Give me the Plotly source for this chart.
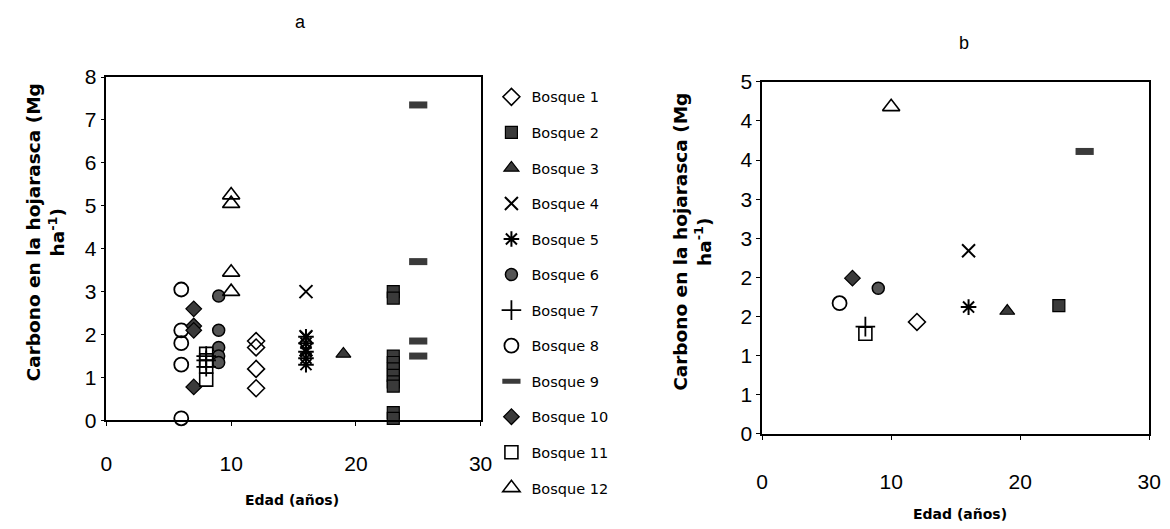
import plotly.graph_objects as go

# Age (years) of each forest stand
bosques = [f"Bosque {i}" for i in range(1, 13)]
edades = [12, 23, 19, 16, 16, 9, 8, 6, 25, 7, 8, 10]

# Panel a: individual litter carbon values per stand (Mg ha-1)
carbono_a = [
    [1.85, 1.70, 1.20, 0.75],                              # Bosque 1
    [3.00, 2.85, 1.50, 1.35, 1.20, 1.05, 0.90, 0.80, 0.18, 0.05],  # Bosque 2
    [1.55],                                                # Bosque 3
    [3.00, 1.95, 1.65],                                    # Bosque 4
    [1.95, 1.80, 1.60, 1.45, 1.30],                        # Bosque 5
    [2.90, 2.10, 1.70, 1.50, 1.35],                        # Bosque 6
    [1.50, 1.40, 1.25],                                    # Bosque 7
    [3.05, 2.10, 1.80, 1.30, 0.05],                        # Bosque 8
    [7.35, 3.70, 1.85, 1.50],                              # Bosque 9
    [2.60, 2.20, 2.10, 0.78],                              # Bosque 10
    [1.55, 1.40, 1.25, 0.95],                              # Bosque 11
    [5.25, 5.05, 3.45, 3.00],                              # Bosque 12
]

# Panel b: mean litter carbon per stand (Mg ha-1)
carbono_b = [1.43, 1.64, 1.57, 2.34, 1.62, 1.86, 1.37, 1.67, 3.61, 1.99, 1.28, 4.18]

# Axis ticks
ticks_x = [0, 10, 20, 30]
ticks_ya = [0, 1, 2, 3, 4, 5, 6, 7, 8]
ticks_yb = [0, 0.5, 1, 1.5, 2, 2.5, 3, 3.5, 4, 4.5]
ticktext_yb = ["0", "1", "1", "2", "2", "3", "3", "4", "4", "5"]

DARK = "#3a3a3a"
estilos = [
    dict(symbol="diamond-open", size=13, color="black", line=dict(width=1.6, color="black")),
    dict(symbol="square", size=12, color=DARK, line=dict(width=1.2, color="black")),
    dict(symbol="triangle-up", size=13, color=DARK, line=dict(width=1.2, color="black")),
    dict(symbol="x-thin", size=13, color="black", line=dict(width=2, color="black")),
    dict(symbol="asterisk", size=13, color="black", line=dict(width=2, color="black")),
    dict(symbol="circle", size=12, color="#555555", line=dict(width=1.5, color="black")),
    dict(symbol="cross-thin", size=14, color="black", line=dict(width=1.8, color="black")),
    dict(symbol="circle-open", size=14, color="black", line=dict(width=1.8, color="black")),
    dict(symbol="line-ew", size=13, color=DARK, line=dict(width=7, color=DARK)),
    dict(symbol="diamond", size=12, color=DARK, line=dict(width=1.2, color="black")),
    dict(symbol="square-open", size=13, color="black", line=dict(width=1.6, color="black")),
    dict(symbol="triangle-up-open", size=15, color="black", line=dict(width=1.6, color="black")),
]

fig = go.Figure()

for i, nombre in enumerate(bosques):
    vals = carbono_a[i]
    fig.add_trace(go.Scatter(
        x=[edades[i]] * len(vals), y=vals, mode="markers", name=nombre,
        legendgroup=nombre, marker=estilos[i], xaxis="x", yaxis="y",
        cliponaxis=False,
    ))
    fig.add_trace(go.Scatter(
        x=[edades[i]], y=[carbono_b[i]], mode="markers", name=nombre,
        legendgroup=nombre, showlegend=False, marker=estilos[i],
        xaxis="x2", yaxis="y2", cliponaxis=False,
    ))

W, H = 1170, 529


def px_x(a, b):
    return [a / W, b / W]


def px_y(top, bottom):
    return [(H - bottom) / H, (H - top) / H]


tick_font = dict(family="Liberation Sans, Arial, sans-serif", size=21, color="black")
axis_common = dict(
    showgrid=False, zeroline=False, showline=True, linecolor="black",
    linewidth=1.5, mirror=True, ticks="outside", ticklen=4, tickwidth=1,
    tickcolor="black", tickfont=tick_font,
)

fig.update_layout(
    width=W, height=H,
    margin=dict(l=0, r=0, t=0, b=0),
    paper_bgcolor="white", plot_bgcolor="white",
    xaxis=dict(domain=px_x(102, 482), range=[0, 30], tickvals=ticks_x,
               anchor="y", ticklabelstandoff=20, **axis_common),
    yaxis=dict(domain=px_y(68, 427), range=[0, 8], tickvals=ticks_ya,
               anchor="x", **axis_common),
    xaxis2=dict(domain=px_x(768, 1161), range=[0, 30], tickvals=ticks_x,
                anchor="y2", ticklabelstandoff=24, **axis_common),
    yaxis2=dict(domain=px_y(73, 441), range=[0, 4.5], tickvals=ticks_yb,
                ticktext=ticktext_yb, anchor="x2", **axis_common),
    legend=dict(
        x=493 / W, y=(H - 72) / H, xanchor="left", yanchor="top",
        font=dict(family="DejaVu Sans, sans-serif", size=14.5, color="black"),
        tracegroupgap=13.7, itemwidth=30, bgcolor="rgba(0,0,0,0)",
    ),
    showlegend=True,
)

ytitle = "<b>Carbono en la hojarasca (Mg<br>ha<sup>-1</sup>)</b>"
title_font = dict(family="DejaVu Sans, sans-serif", size=18.5, color="black")
xt_font = dict(family="DejaVu Sans, sans-serif", size=14, color="black")
panel_font = dict(family="Liberation Sans, Arial, sans-serif", size=18, color="black")

annotations = [
    dict(text="a", x=299 / W, y=(H - 10) / H, font=panel_font),
    dict(text="b", x=973 / W, y=(H - 32) / H, font=panel_font),
    dict(text=ytitle, x=40 / W, y=(H - 230) / H, textangle=-90, font=title_font),
    dict(text=ytitle, x=697 / W, y=(H - 240) / H, textangle=-90, font=title_font),
    dict(text="<b>Edad (años)</b>", x=290 / W, y=(H - 510) / H, font=xt_font),
    dict(text="<b>Edad (años)</b>", x=969 / W, y=(H - 525) / H, font=xt_font),
]
for a in annotations:
    a.update(xref="paper", yref="paper", showarrow=False,
             xanchor="center", yanchor="middle")
fig.update_layout(annotations=annotations)

fig.write_html("out.html")
